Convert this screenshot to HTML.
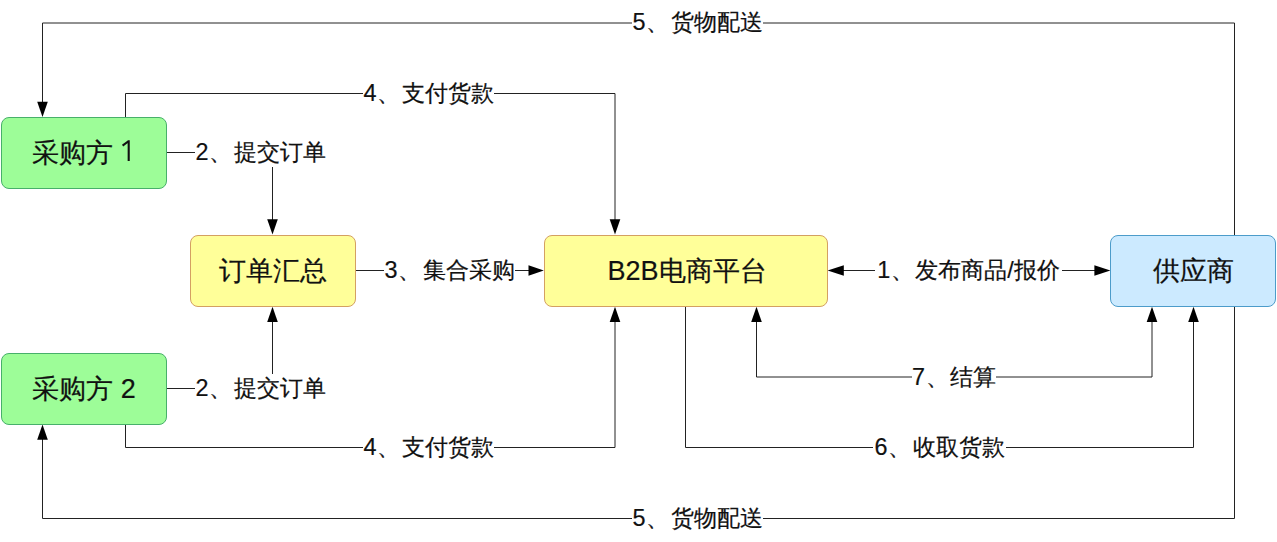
<!DOCTYPE html>
<html><head><meta charset="utf-8">
<style>
html,body{margin:0;padding:0;background:#fff;}
body{width:1277px;height:542px;position:relative;overflow:hidden;font-family:"Liberation Sans",sans-serif;color:#111;-webkit-text-stroke:0.2px #111;}
svg{position:absolute;left:0;top:0;}
.box{position:absolute;box-sizing:border-box;border:1px solid;border-radius:8px;display:flex;align-items:center;justify-content:center;font-size:27px;white-space:nowrap;}
.g{background:#9dfd98;border-color:#47b06a;}
.y{background:#ffff99;border-color:#d4a062;}
.b{background:#cceaff;border-color:#4c9cca;}
.lb i{font-style:normal;letter-spacing:1px;}
.lb{position:absolute;background:#fff;font-size:23.4px;line-height:27px;height:28px;white-space:nowrap;text-align:center;}
</style></head><body>
<svg width="1277" height="542" viewBox="0 0 1277 542">
<g fill="none" stroke="#222" stroke-width="1">
<path d="M1234.5,235 V23 H42.5 V102"/>
<path d="M125.5,117 V93.5 H615 V220"/>
<path d="M166,152.5 H272.5 V220"/>
<path d="M166,388.5 H272.5 V321"/>
<path d="M355,270.5 H529"/>
<path d="M125.5,424 V447.5 H615 V321"/>
<path d="M843,270.5 H1095"/>
<path d="M756.5,321 V377 H1152 V321"/>
<path d="M685.5,306 V447.5 H1193.5 V321"/>
<path d="M1234.5,306 V518.5 H42.5 V439"/>
</g>
<g fill="#000">
<polygon points="37.2,101.7 47.8,101.7 42.5,117"/>
<polygon points="609.7,219.2 620.3,219.2 615,234.5"/>
<polygon points="267.2,219.2 277.8,219.2 272.5,234.5"/>
<polygon points="267.2,322 277.8,322 272.5,306.7"/>
<polygon points="528.5,265.2 528.5,275.8 543.8,270.5"/>
<polygon points="609.7,322 620.3,322 615,306.7"/>
<polygon points="843.8,265.2 843.8,275.8 827.6,270.5"/>
<polygon points="1094.4,265.2 1094.4,275.8 1110.4,270.5"/>
<polygon points="751.2,322 761.8,322 756.5,306.7"/>
<polygon points="1146.7,322 1157.3,322 1152,306.7"/>
<polygon points="1188.2,322 1198.8,322 1193.5,306.7"/>
<polygon points="37.2,439.8 47.8,439.8 42.5,424.5"/>
</g>
</svg>
<div class="box g" style="left:1px;top:117px;width:166px;height:72px;justify-content:flex-start;padding-left:30px;">采购方</div>
<div class="box g" style="left:1px;top:353px;width:166px;height:72px;">采购方 2</div>
<div class="box y" style="left:190px;top:235px;width:166px;height:72px;">订单汇总</div>
<div class="box y" style="left:544px;top:235px;width:284px;height:72px;padding-left:2px;box-sizing:border-box;">B2B电商平台</div>
<div class="box b" style="left:1110px;top:235px;width:166px;height:72px;">供应商</div>

<div class="lb" style="left:632px;top:9px;width:131px;"><i>5、</i>货物配送</div>
<div class="lb" style="left:363px;top:80px;width:131px;"><i>4、</i>支付货款</div>
<div class="lb" style="left:195px;top:139px;width:131px;"><i>2、</i>提交订单</div>
<div class="lb" style="left:195px;top:374px;padding-top:1px;height:27px;width:131px;"><i>2、</i>提交订单</div>
<div class="lb" style="left:384px;top:257px;width:131px;"><i>3、</i>集合采购</div>
<div class="lb" style="left:875px;top:257px;width:187px;"><i>1、</i>发布商品/报价</div>
<div class="lb" style="left:912px;top:364px;width:84px;"><i>7、</i>结算</div>
<div class="lb" style="left:363px;top:434px;width:131px;"><i>4、</i>支付货款</div>
<div class="lb" style="left:873px;top:434px;width:133px;"><i>6、</i>收取货款</div>
<div class="lb" style="left:632px;top:505px;width:131px;"><i>5、</i>货物配送</div>
<svg width="1277" height="542" style="pointer-events:none"><path d="M122.6,145.6 L128.7,141 M128.7,140.3 V161" stroke="#111" stroke-width="2.1" fill="none"/></svg>
</body></html>
